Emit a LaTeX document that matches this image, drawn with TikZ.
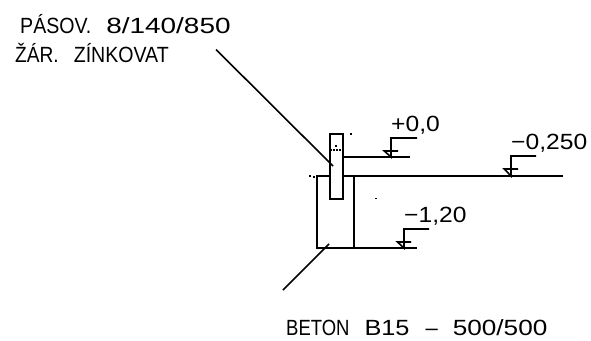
\documentclass[tikz,border=0pt]{standalone}
\usepackage{fontspec}
\setmainfont{Liberation Sans}
\newcommand{\sx}[2]{\scalebox{#1}[1]{#2}}
\tikzset{
  ln/.style={line width=1.6pt,black},
  label/.style={inner sep=0pt,anchor=base west,font=\fontsize{22}{24}\selectfont},
  dotmark/.style={fill=black,inner sep=0pt,minimum size=1.6pt,rectangle}
}
\begin{document}
\begin{tikzpicture}[x=1pt,y=-1pt]
\useasboundingbox (0,0) rectangle (591,340);
% texts
\node[label] (t1) at (20,33) {\sx{0.89}{PÁSOV.}\hspace{15pt}\sx{1.27}{8/140/850}};
\node[label] (t2) at (15,62) {\sx{0.87}{ŽÁR.}\hspace{15pt}\sx{0.89}{ZÍNKOVAT}};
\node[label] (t3) at (286,335) {\sx{0.84}{BETON}\hspace{15pt}\sx{1.15}{B15}\hspace{16pt}–\hspace{15pt}\sx{1.19}{500/500}};
\node[label] (l1) at (391,131) {\sx{1.12}{+0,0}};
\node[label] (l2) at (511,149) {\sx{1.12}{−0,250}};
\node[label] (l3) at (404,222.6) {\sx{1.12}{−1,20}};
% plate
\coordinate (pa) at (330,134);
\coordinate (pb) at (343,199);
\draw[ln] (pa) rectangle (pb);
\draw[ln,dash pattern=on 2pt off 1pt] (330,150) -- (343,150);
% footing
\coordinate (f1) at (330,176);
\coordinate (f2) at (317,176);
\coordinate (f3) at (317,248);
\coordinate (f4) at (417,248);
\draw[ln] (f1) -- (f2) -- (f3) -- (f4);
\draw[ln] (354,176) -- (354,248);
\coordinate (g1) at (343,176);
\coordinate (g2) at (563,176);
\draw[ln] (g1) -- (g2);
\coordinate (z1) at (343,157);
\coordinate (z2) at (410,157);
\draw[ln] (z1) -- (z2);
% leaders
\coordinate (a1) at (216,49.5);
\coordinate (a2) at (333,166);
\draw[ln] (a1) -- (a2);
\coordinate (b1) at (283,290);
\coordinate (b2) at (329,244);
\draw[ln] (b1) -- (b2);
% level marks
\draw[ln] (417,138) -- (391,138) -- (391,157) -- (384.3,151) -- (398,151);
\draw[ln] (536,156) -- (511,156) -- (511,176) -- (504.3,169) -- (518,169);
\draw[ln] (429,229) -- (404,229) -- (404,248) -- (397.5,242) -- (411,242);
% dots
\node[dotmark] (d1) at (351,134) {};
\node[dotmark] (d2) at (336,146) {};
\node[dotmark] (d3) at (310,176) {};
\node[dotmark] (d4) at (314,177) {};
\node[dotmark] (d5) at (376,198.5) {};
\end{tikzpicture}
\end{document}
